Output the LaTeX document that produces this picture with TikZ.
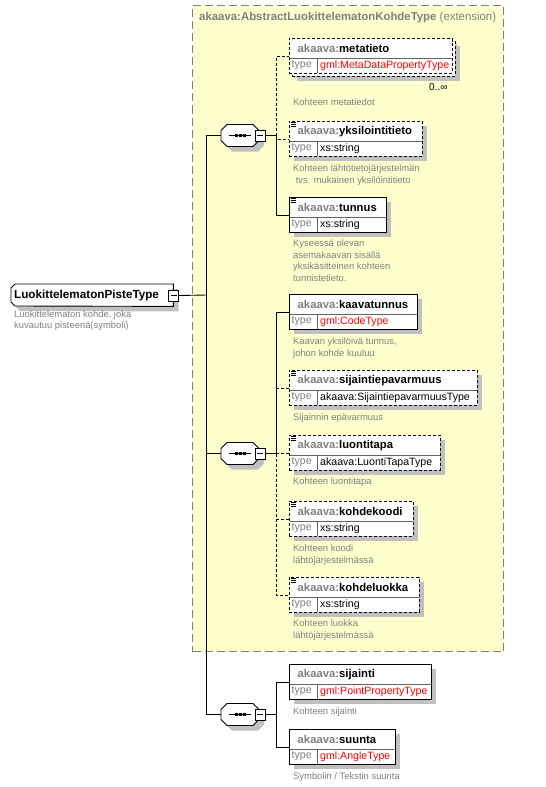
\documentclass[tikz,border=0pt]{standalone}
\usepackage{fontspec}
\setmainfont{Liberation Sans}
\usetikzlibrary{positioning, calc}
\definecolor{color1}{RGB}{128, 128, 128}
\definecolor{color2}{RGB}{192, 192, 192}
\definecolor{color3}{RGB}{255, 255, 206}
\definecolor{color4}{RGB}{255, 0, 0}
\definecolor{color5}{RGB}{100, 100, 100}

\tikzset{
    link/.style={line width=0.9pt},
    optional/.style={dash pattern=on 3pt off 2pt},
    required/.style={solid},
    elembox/.style={draw=black, fill=white, line width=0.9pt, minimum height=35pt, inner sep=0pt, anchor=north west},
    seqbox/.style={minimum width=38pt, minimum height=22pt, inner sep=0pt},
    minusbox/.style={draw=black, fill=white, line width=0.9pt, minimum width=10pt, minimum height=11pt, inner sep=0pt,
        path picture={\draw[line width=0.9pt] ([xshift=2pt]path picture bounding box.west) -- ([xshift=-2pt]path picture bounding box.east);}},
    headtext/.style={font=\fontsize{11.3}{13}\selectfont\bfseries, inner sep=0pt, anchor=west},
    typetext/.style={font=\fontsize{10.6}{12}\selectfont, inner sep=0pt, anchor=west},
    desctext/.style={font=\fontsize{9.4}{11.5}\selectfont, text=color1, inner sep=0pt, anchor=north west, align=left},
}

\def\elemlist{meta/38/163/optional/metatieto/gml:MetaDataPropertyType/color4/0/25/{Kohteen metatiedot},
    yks/121/133/optional/yksilointitieto/xs:string/black/1/8/{Kohteen lähtötietojärjestelmän\\~tvs. mukainen yksilöintitieto},
    tunnus/197/97/required/tunnus/xs:string/black/1/7/{Kyseessä olevan\\asemakaavan sisällä\\yksikäsitteinen kohteen\\tunnistetieto.},
    kaava/294/128/required/kaavatunnus/gml:CodeType/color4/0/8/{Kaavan yksilöivä tunnus,\\johon kohde kuuluu},
    sija/370/188/optional/sijaintiepavarmuus/akaava:SijaintiepavarmuusType/black/1/8/{Sijainnin epävarmuus},
    luonti/435/151/optional/luontitapa/akaava:LuontiTapaType/black/1/7/{Kohteen luontitapa},
    kohdek/501/124/optional/kohdekoodi/xs:string/black/1/8/{Kohteen koodi\\lähtöjärjestelmässä},
    kohdel/577/130/optional/kohdeluokka/xs:string/black/1/7/{Kohteen luokka\\lähtöjärjestelmässä},
    sijainti/664/142/required/sijainti/gml:PointPropertyType/color4/0/8/{Kohteen sijainti},
    suunta/729/106/required/suunta/gml:AngleType/color4/0/8/{Symbolin / Tekstin suunta}}

\begin{document}
\begin{tikzpicture}[x=1pt, y=-1pt]
        \useasboundingbox (0,0) rectangle (546,787);

        % Extension
        \node[draw=color1, fill=color3, line width=1pt, dash pattern=on 8pt off 4pt, minimum width=311pt,
                minimum height=646pt, inner sep=0pt, anchor=north west] (ext) at (192,5) {};
        \node[headtext, text=color1, font=\fontsize{11.4}{13}\selectfont\bfseries] (exthead) at (199,18)
                {akaava:AbstractLuokittelematonKohdeType\mdseries\ (extension)};

        % Root type
        \node[minimum width=162pt, minimum height=22pt, inner sep=0pt, anchor=north west] (root) at (11,284) {};
        \foreach \o/\c/\d in {5/color2/none, 0/white/black}
        \path[fill=\c, draw=\d, line width=0.9pt] ($(root.north east)+(\o,\o)$) -- ($(root.north west)+(4+\o,\o)$)
                -- ++(-4,4) -- ++(0,14) -- ++(4,4) -- ($(root.south east)+(\o,\o)$) -- cycle;
        \node[headtext, font=\fontsize{11.7}{13}\selectfont\bfseries] (roottext) at (14,295) {LuokittelematonPisteType};
        \node[minusbox] (rootm) at (173.5,295.5) {};
        \node[desctext] (rootdesc) at (14,310) {Luokittelematon kohde, joka\\kuvautuu pisteenä(symboli)};
        \coordinate (trunk) at (206,295);

        % Sequences
        \foreach \s/\y in {s1/135.5, s2/453.5, s3/714.5} {
        \node[seqbox] (\s) at (240,\y) {};
        \foreach \o/\c/\d in {5/color2/none, 0/white/black}
                \path[fill=\c, draw=\d, line width=0.9pt] ($(\s.center)+(-13+\o,-11+\o)$) -- ++(26,0) -- ++(6,6)
                        -- ++(0,10) -- ++(-6,6) -- ++(-26,0) -- ++(-6,-6) -- ++(0,-10) -- cycle;
        \draw[link] ($(\s.center)+(-11,0)$) -- ($(\s.center)+(11,0)$);
        \foreach \d in {-4,0,4}
                \fill ($(\s.center)+(\d-1.5,-1.5)$) rectangle ++(3,3);
        \node[minusbox] (\s-m) at (260,\y) {};
        \coordinate (\s-b) at ($(\s-m.east)+(11,0)$);
        }

        % Shadows
        \fill[color2] (297,46) rectangle ++(163,35);
        \foreach \n/\y/\w/\ln/\nm/\ty/\tc/\ic/\dy/\desc in \elemlist {
        \fill[color2] (294,\y+5) rectangle ++(\w,35);
        }
        \node[elembox, optional, minimum width=163pt] (meta-back) at (292,41) {};

        % Elements
        \foreach \n/\y/\w/\ln/\nm/\ty/\tc/\ic/\dy/\desc in \elemlist {
        \node[elembox, \ln, minimum width=\w pt] (\n) at (289,\y) {};
        \draw[line width=0.8pt, color5] ($(\n.north west)+(0.5,20)$) -- ($(\n.north east)+(-0.5,20)$);
        \draw[line width=0.8pt, color5] ($(\n.north west)+(28,20)$) -- ($(\n.south west)+(28,-0.5)$);
        \node[headtext] (\n-name) at ($(\n.north west)+(8.5,10.5)$) {\textcolor{color1}{akaava:}\nm};
        \node[typetext, text=color1] (\n-type) at ($(\n.north west)+(2.5,27.5)$) {type};
        \node[typetext, text=\tc] (\n-value) at ($(\n.north west)+(31,27.5)$) {\ty};
        \ifnum\ic=1
                \foreach \k in {1.5,3.3,5.1}
                        \draw[line width=0.7pt] ($(\n.north west)+(2,\k)$) -- ++(5,0);
        \fi
        \node[desctext] (\n-desc) at ($(\n.south west)+(4,\dy)$) {\desc};
        \coordinate (\n-c) at ($(\n.north west)+(0,18)$);
        }
        \node[typetext, font=\fontsize{10}{12}\selectfont] (meta-mult) at (429,87) {0..∞};

        % Connectors
        \draw[link] (rootm.east) -- (trunk);
        \draw[link] (trunk |- s1.west) -- (trunk |- s3.west);
        \foreach \s in {s1,s2,s3} {
        \draw[link] (trunk |- \s.west) -- (\s.west);
        \draw[link] (\s-m.east) -- (\s-b);
        }
        \draw[link, optional] (s1-b) |- (meta-c);
        \draw[link, optional] (s1-b) |- (yks-c);
        \draw[link] (s1-b) |- (tunnus-c);
        \foreach \n in {sija, luonti, kohdek, kohdel}
                \draw[link, optional] (s2-b) |- (\n-c);
        \draw[link] (s2-b) |- (kaava-c);
        \draw[link] (s3-b) |- (sijainti-c);
        \draw[link] (s3-b) |- (suunta-c);
    \end{tikzpicture}
\end{document}
